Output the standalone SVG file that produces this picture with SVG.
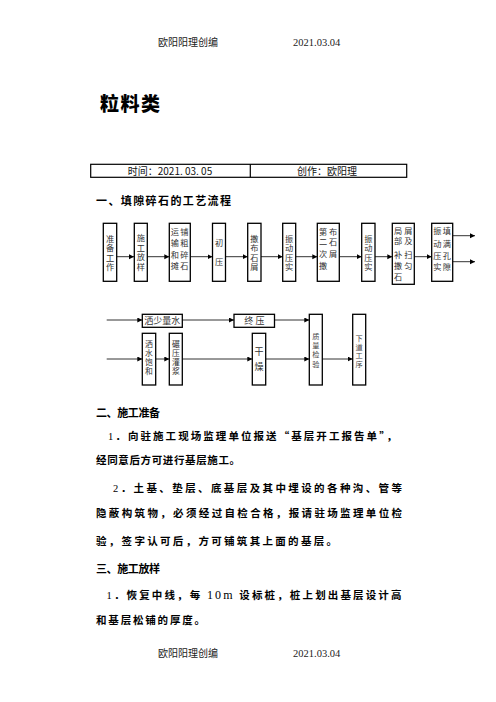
<svg xmlns="http://www.w3.org/2000/svg" width="496" height="702" viewBox="0 0 496 702">
<style>
.bg{fill:#fff}
.hdr{font-family:"Noto Sans CJK SC","Liberation Sans",sans-serif;font-size:10px;fill:#222}
.hdrn{font-family:"Liberation Serif",serif;font-size:10.5px;fill:#222}
.title{font-family:"Noto Sans CJK SC",sans-serif;font-size:19px;font-weight:900;fill:#000}
.cell{font-family:"Noto Sans CJK SC","Liberation Sans",sans-serif;font-size:10px;fill:#111}
.h{font-family:"Noto Sans CJK SC",sans-serif;font-size:11px;font-weight:700;fill:#000}
.p{font-family:"Noto Sans CJK SC",sans-serif;font-size:10.5px;font-weight:700;fill:#000}
.pn{font-family:"Liberation Serif",serif;font-weight:400}
.box{fill:#fff;stroke:#000;stroke-width:1.3}
.bt,.bh,.bv,.bs{font-family:"Liberation Serif","Noto Sans CJK SC",serif;fill:#333;text-anchor:middle}
.bt{font-size:8.2px}
.bh{font-size:9px}
.bv{font-size:7.8px}
.bs{font-size:7.2px;fill:#444}
.tbl{fill:none;stroke:#000;stroke-width:1.2}
.ln{stroke:#333;stroke-width:1;fill:none;marker-end:url(#ah)}
</style>
<defs>
<marker id="ah" markerUnits="userSpaceOnUse" markerWidth="6" markerHeight="6" refX="5" refY="2.5" orient="auto">
<path d="M0,0 L5,2.5 L0,5 z" fill="#000"/>
</marker>
</defs>
<rect class="bg" x="0" y="0" width="496" height="702"/>

<g id="header">
<text class="hdr" x="158" y="46">欧阳阳理创编</text>
<text class="hdrn" x="293" y="46">2021.03.04</text>
</g>

<text id="title" class="title" x="100" y="111" textLength="60" lengthAdjust="spacing">粒料类</text>

<g id="table">
<rect class="tbl" x="90.7" y="164.3" width="316" height="13"/>
<line class="tbl" x1="250.3" y1="164.3" x2="250.3" y2="177.3"/>
<text class="cell" x="170" y="174.5" text-anchor="middle">时间：2021. 03. 05</text>
<text class="cell" x="327" y="174.5" text-anchor="middle">创作：欧阳理</text>
</g>

<text id="sec1" class="h" x="96" y="205" textLength="135" lengthAdjust="spacing">一、填隙碎石的工艺流程</text>

<g id="connectors">
<line class="ln" x1="117" y1="256.7" x2="134" y2="256.7"/>
<line class="ln" x1="147.3" y1="256.7" x2="169.3" y2="256.7"/>
<line class="ln" x1="190.5" y1="256.7" x2="212.5" y2="256.7"/>
<line class="ln" x1="225.5" y1="256.7" x2="247.7" y2="256.7"/>
<line class="ln" x1="261" y1="256.7" x2="282.7" y2="256.7"/>
<line class="ln" x1="295.7" y1="256.7" x2="317.3" y2="256.7"/>
<line class="ln" x1="339.3" y1="256.7" x2="361.7" y2="256.7"/>
<line class="ln" x1="375" y1="256.7" x2="392.3" y2="256.7"/>
<line class="ln" x1="414.3" y1="256.7" x2="431.7" y2="256.7"/>
<line class="ln" x1="452.7" y1="235.7" x2="475" y2="235.7"/>
<line class="ln" x1="452.7" y1="261.7" x2="475" y2="261.7"/>
<line class="ln" x1="106.7" y1="320" x2="142.3" y2="320"/>
<line class="ln" x1="182.3" y1="320" x2="234" y2="320"/>
<line class="ln" x1="274.5" y1="320" x2="309.3" y2="320"/>
<line class="ln" x1="106.7" y1="359" x2="142.3" y2="359"/>
<line class="ln" x1="155.7" y1="359" x2="169.3" y2="359"/>
<line class="ln" x1="182.3" y1="359" x2="252.3" y2="359"/>
<line class="ln" x1="265.7" y1="359" x2="309.3" y2="359"/>
<line class="ln" x1="322.3" y1="359" x2="352.7" y2="359"/>
</g>

<g id="n1"><rect class="box" x="103.3" y="223.3" width="13.4" height="58"/>
<text class="bt"><tspan x="110" y="241.5">准</tspan><tspan x="110" y="251">备</tspan><tspan x="110" y="260.5">工</tspan><tspan x="110" y="270">作</tspan></text></g>

<g id="n2"><rect class="box" x="134.3" y="223.3" width="13" height="58"/>
<text class="bt"><tspan x="140.8" y="241">施</tspan><tspan x="140.8" y="250.5">工</tspan><tspan x="140.8" y="260">放</tspan><tspan x="140.8" y="269.5">样</tspan></text></g>

<g id="n3"><rect class="box" x="169.3" y="223.3" width="21" height="58"/>
<text class="bt"><tspan x="174.8" y="234.5">运</tspan><tspan x="184.4" y="234.5">铺</tspan><tspan x="174.8" y="246">输</tspan><tspan x="184.4" y="246">粗</tspan><tspan x="174.8" y="257.5">和</tspan><tspan x="184.4" y="257.5">碎</tspan><tspan x="174.8" y="268.5">摊</tspan><tspan x="184.4" y="268.5">石</tspan></text></g>

<g id="n4"><rect class="box" x="212.5" y="223.3" width="13" height="58"/>
<text class="bt"><tspan x="219" y="246">初</tspan><tspan x="219" y="264.5">压</tspan></text></g>

<g id="n5"><rect class="box" x="247.7" y="223.3" width="13.3" height="58"/>
<text class="bt"><tspan x="254.4" y="241.5">撒</tspan><tspan x="254.4" y="251">布</tspan><tspan x="254.4" y="260.5">石</tspan><tspan x="254.4" y="270">屑</tspan></text></g>

<g id="n6"><rect class="box" x="282.7" y="223.3" width="13" height="58"/>
<text class="bt"><tspan x="289.2" y="242">振</tspan><tspan x="289.2" y="251.3">动</tspan><tspan x="289.2" y="260.6">压</tspan><tspan x="289.2" y="269.9">实</tspan></text></g>

<g id="n7"><rect class="box" x="317.3" y="223.3" width="22" height="58"/>
<text class="bt"><tspan x="323" y="234.5">第</tspan><tspan x="333" y="234.5">布</tspan><tspan x="323" y="244.8">二</tspan><tspan x="333" y="244.8">石</tspan><tspan x="323" y="257">次</tspan><tspan x="333" y="257">屑</tspan><tspan x="323" y="269">撒</tspan></text></g>

<g id="n8"><rect class="box" x="361.7" y="223.3" width="13.3" height="58"/>
<text class="bt"><tspan x="368.3" y="242">振</tspan><tspan x="368.3" y="251.3">动</tspan><tspan x="368.3" y="260.6">压</tspan><tspan x="368.3" y="269.9">实</tspan></text></g>

<g id="n9"><rect class="box" x="392.3" y="223.3" width="22" height="61"/>
<text class="bt"><tspan x="398.2" y="234">局</tspan><tspan x="408.4" y="234">屑</tspan><tspan x="398.2" y="244">部</tspan><tspan x="408.4" y="244">及</tspan><tspan x="398.2" y="258">补</tspan><tspan x="408.4" y="258">扫</tspan><tspan x="398.2" y="268.5">撒</tspan><tspan x="408.4" y="268.5">匀</tspan><tspan x="398.2" y="279.5">石</tspan></text></g>

<g id="n10"><rect class="box" x="431.7" y="223.3" width="21" height="58"/>
<text class="bt"><tspan x="437.3" y="234">振</tspan><tspan x="446.9" y="234">填</tspan><tspan x="437.3" y="246.5">动</tspan><tspan x="446.9" y="246.5">满</tspan><tspan x="437.3" y="258.5">压</tspan><tspan x="446.9" y="258.5">孔</tspan><tspan x="437.3" y="269.5">实</tspan><tspan x="446.9" y="269.5">隙</tspan></text></g>

<g id="n11"><rect class="box" x="142.3" y="314.3" width="40" height="13"/>
<text class="bh" x="162.3" y="324">洒少量水</text></g>

<g id="n12"><rect class="box" x="234" y="314.3" width="40.5" height="13"/>
<text class="bh" x="254.3" y="324">终 压</text></g>

<g id="n13"><rect class="box" x="142.3" y="333.3" width="13.4" height="51.7"/>
<text class="bv"><tspan x="149" y="347">洒</tspan><tspan x="149" y="356">水</tspan><tspan x="149" y="365">饱</tspan><tspan x="149" y="374">和</tspan></text></g>

<g id="n14"><rect class="box" x="169.3" y="333.3" width="13" height="51.7"/>
<text class="bv"><tspan x="175.8" y="347">碾</tspan><tspan x="175.8" y="356">压</tspan><tspan x="175.8" y="365">灌</tspan><tspan x="175.8" y="374">浆</tspan></text></g>

<g id="n15"><rect class="box" x="252.3" y="333.3" width="13.4" height="51.7"/>
<text class="bh"><tspan x="259" y="354.7">干</tspan><tspan x="259" y="370.3">燥</tspan></text></g>

<g id="n16"><rect class="box" x="309.3" y="314.3" width="13" height="70.7"/>
<text class="bs"><tspan x="315.8" y="338.7">质</tspan><tspan x="315.8" y="347.8">量</tspan><tspan x="315.8" y="357.2">检</tspan><tspan x="315.8" y="366.5">验</tspan></text></g>

<g id="n17"><rect class="box" x="352.7" y="314.3" width="13" height="70.7"/>
<text class="bs"><tspan x="359.2" y="340.8">下</tspan><tspan x="359.2" y="349.5">道</tspan><tspan x="359.2" y="358.2">工</tspan><tspan x="359.2" y="366.9">序</tspan></text></g>

<g id="body">
<text class="h" x="96" y="417" textLength="64" lengthAdjust="spacing">二、施工准备</text>
<text class="p" x="108" y="439.5" textLength="289" lengthAdjust="spacing"><tspan class="pn">1</tspan>．向驻施工现场监理单位报送“基层开工报告单”，</text>
<text class="p" x="96" y="464" textLength="144" lengthAdjust="spacing">经同意后方可进行基层施工。</text>
<text class="p" x="113" y="492" textLength="289" lengthAdjust="spacing"><tspan class="pn">2</tspan>．土基、垫层、底基层及其中埋设的各种沟、管等</text>
<text class="p" x="96" y="517" textLength="306" lengthAdjust="spacing">隐蔽构筑物，必须经过自检合格，报请驻场监理单位检</text>
<text class="p" x="96" y="544.5" textLength="241" lengthAdjust="spacing">验，签字认可后，方可铺筑其上面的基层。</text>
<text class="h" x="96" y="572.5" textLength="64" lengthAdjust="spacing">三、施工放样</text>
<text class="p" x="106.5" y="598.5" textLength="295" lengthAdjust="spacing"><tspan class="pn">1</tspan>．恢复中线，每 <tspan class="pn" font-size="12">10m</tspan> 设标桩，桩上划出基层设计高</text>
<text class="p" x="96" y="623.5" textLength="109" lengthAdjust="spacing">和基层松铺的厚度。</text>
</g>

<g id="footer">
<text class="hdr" x="158" y="657">欧阳阳理创编</text>
<text class="hdrn" x="293" y="657">2021.03.04</text>
</g>
</svg>
